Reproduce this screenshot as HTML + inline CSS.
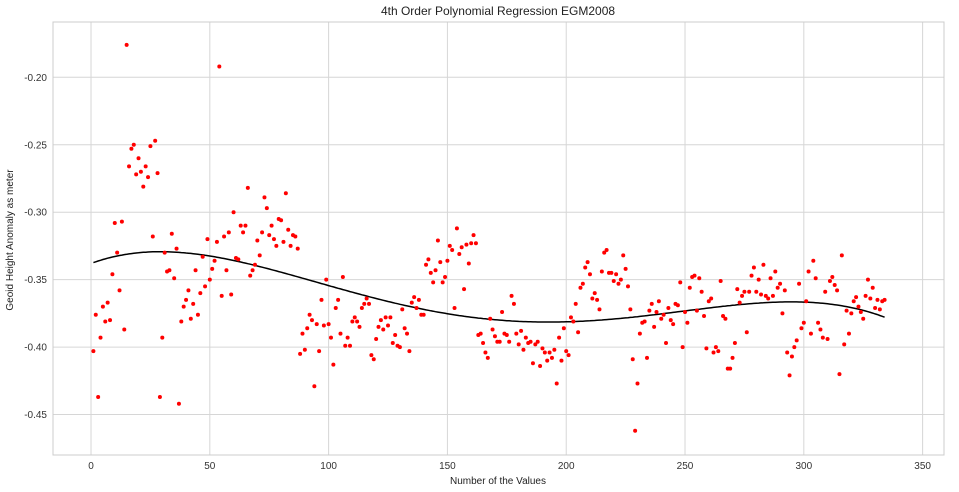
<!DOCTYPE html>
<html><head><meta charset="utf-8"><style>
body{margin:0;background:#fff;font-family:"Liberation Sans",sans-serif;}
svg{display:block}
</style></head><body>
<svg id="chart" width="959" height="492" xmlns="http://www.w3.org/2000/svg">
<text x="498" y="15" text-anchor="middle" font-size="12" fill="#222">4th Order Polynomial Regression EGM2008</text>
<text x="498" y="484" text-anchor="middle" font-size="10" fill="#222">Number of the Values</text>
<text transform="translate(13,240) rotate(-90)" text-anchor="middle" font-size="10" fill="#222">Geoid Height Anomaly as meter</text>
<g id="grid"></g>
<g id="ticks"></g>
<path id="fit" fill="none" stroke="#000" stroke-width="1.5"/>
<g id="pts"></g>
<rect x="53" y="22" width="891" height="433" fill="none" stroke="#ccc" stroke-width="1"/>
</svg>
<script>
const values = [-0.403,-0.376,-0.437,-0.393,-0.370,-0.381,-0.367,-0.380,-0.346,-0.308,
-0.330,-0.358,-0.307,-0.387,-0.176,-0.266,-0.253,-0.250,-0.272,-0.260,
-0.270,-0.281,-0.266,-0.274,-0.251,-0.318,-0.247,-0.271,-0.437,-0.393,
-0.330,-0.344,-0.343,-0.316,-0.349,-0.327,-0.442,-0.381,-0.370,-0.365,
-0.358,-0.379,-0.368,-0.343,-0.376,-0.360,-0.333,-0.355,-0.320,-0.350,
-0.342,-0.336,-0.322,-0.192,-0.362,-0.318,-0.343,-0.315,-0.361,-0.300,
-0.334,-0.335,-0.310,-0.315,-0.310,-0.282,-0.347,-0.343,-0.339,-0.321,
-0.332,-0.315,-0.289,-0.297,-0.317,-0.310,-0.320,-0.325,-0.305,-0.306,
-0.322,-0.286,-0.313,-0.325,-0.317,-0.318,-0.327,-0.405,-0.390,-0.402,
-0.386,-0.376,-0.380,-0.429,-0.383,-0.403,-0.365,-0.384,-0.350,-0.383,
-0.393,-0.413,-0.371,-0.365,-0.390,-0.348,-0.399,-0.393,-0.399,-0.381,
-0.378,-0.381,-0.385,-0.371,-0.368,-0.364,-0.368,-0.406,-0.409,-0.394,
-0.385,-0.380,-0.387,-0.378,-0.384,-0.378,-0.397,-0.391,-0.399,-0.400,
-0.372,-0.386,-0.390,-0.403,-0.367,-0.363,-0.371,-0.365,-0.376,-0.376,
-0.339,-0.335,-0.345,-0.352,-0.343,-0.321,-0.337,-0.352,-0.348,-0.336,
-0.325,-0.328,-0.371,-0.312,-0.331,-0.326,-0.357,-0.324,-0.338,-0.323,
-0.317,-0.323,-0.391,-0.390,-0.397,-0.404,-0.408,-0.379,-0.387,-0.392,
-0.396,-0.396,-0.374,-0.390,-0.391,-0.396,-0.362,-0.368,-0.390,-0.398,
-0.388,-0.402,-0.393,-0.397,-0.396,-0.412,-0.398,-0.396,-0.414,-0.401,
-0.404,-0.410,-0.404,-0.408,-0.402,-0.427,-0.393,-0.410,-0.386,-0.403,
-0.406,-0.378,-0.381,-0.368,-0.389,-0.356,-0.353,-0.341,-0.337,-0.346,
-0.364,-0.360,-0.365,-0.372,-0.344,-0.330,-0.328,-0.345,-0.345,-0.351,
-0.346,-0.353,-0.350,-0.332,-0.342,-0.355,-0.372,-0.409,-0.462,-0.427,
-0.390,-0.382,-0.381,-0.408,-0.373,-0.368,-0.385,-0.374,-0.366,-0.379,
-0.376,-0.397,-0.371,-0.380,-0.383,-0.368,-0.369,-0.352,-0.400,-0.374,
-0.382,-0.356,-0.348,-0.347,-0.373,-0.349,-0.359,-0.377,-0.401,-0.366,
-0.364,-0.404,-0.400,-0.403,-0.351,-0.377,-0.379,-0.416,-0.416,-0.408,
-0.397,-0.357,-0.367,-0.362,-0.359,-0.389,-0.359,-0.347,-0.341,-0.359,
-0.350,-0.361,-0.339,-0.362,-0.364,-0.349,-0.362,-0.344,-0.356,-0.353,
-0.375,-0.358,-0.404,-0.421,-0.407,-0.400,-0.395,-0.353,-0.386,-0.382,
-0.366,-0.344,-0.390,-0.336,-0.349,-0.382,-0.387,-0.393,-0.359,-0.394,
-0.351,-0.348,-0.354,-0.358,-0.420,-0.332,-0.398,-0.373,-0.390,-0.375,
-0.366,-0.363,-0.370,-0.374,-0.379,-0.362,-0.350,-0.364,-0.356,-0.371,
-0.365,-0.372,-0.366,-0.365];
const xTicks = [0,50,100,150,200,250,300,350];
const yTicks = [-0.20,-0.25,-0.30,-0.35,-0.40,-0.45];

const L=53,R=944,T=22,B=455, X0=-16,X1=359, Y0=-0.48,Y1=-0.159;
const sx=v=>L+(v-X0)/(X1-X0)*(R-L);
const sy=v=>B-(v-Y0)/(Y1-Y0)*(B-T);
const NS="http://www.w3.org/2000/svg";
const grid=document.getElementById('grid'), ticks=document.getElementById('ticks'), pts=document.getElementById('pts');
xTicks.forEach(t=>{
  const l=document.createElementNS(NS,'line');
  
  
  l.setAttribute('x1',sx(t));l.setAttribute('x2',sx(t));l.setAttribute('y1',T);l.setAttribute('y2',B);
  l.setAttribute('stroke','#d6d6d6');grid.appendChild(l);
  const tx=document.createElementNS(NS,'text');
  
  
  tx.setAttribute('x',sx(t));tx.setAttribute('y',B+14);tx.setAttribute('text-anchor','middle');
  tx.setAttribute('font-size','10');tx.setAttribute('fill','#333');tx.textContent=t;ticks.appendChild(tx);
});
yTicks.forEach(t=>{
  const l=document.createElementNS(NS,'line');
  
  
  l.setAttribute('x1',L);l.setAttribute('x2',R);l.setAttribute('y1',sy(t));l.setAttribute('y2',sy(t));
  l.setAttribute('stroke','#d6d6d6');grid.appendChild(l);
  const tx=document.createElementNS(NS,'text');
  
  
  tx.setAttribute('x',L-6);tx.setAttribute('y',sy(t)+3.5);tx.setAttribute('text-anchor','end');
  tx.setAttribute('font-size','10');tx.setAttribute('fill','#333');tx.textContent=t.toFixed(2);ticks.appendChild(tx);
});
values.forEach((v,i)=>{
  const c=document.createElementNS(NS,'circle');
  
  
  c.setAttribute('cx',sx(i+1));c.setAttribute('cy',sy(v));c.setAttribute('r','2');c.setAttribute('fill','#ff0000');
  pts.appendChild(c);
});
// 4th order least-squares fit
(function(){
  const n=values.length, deg=4, m=deg+1;
  const xs=values.map((_,i)=>(i+1)/n);
  const A=[];for(let r=0;r<m;r++){A.push(new Array(m+1).fill(0));}
  for(let k=0;k<n;k++){for(let r=0;r<m;r++){for(let c=0;c<m;c++)A[r][c]+=Math.pow(xs[k],r+c);A[r][m]+=Math.pow(xs[k],r)*values[k];}}
  for(let i=0;i<m;i++){let p=i;for(let r=i+1;r<m;r++)if(Math.abs(A[r][i])>Math.abs(A[p][i]))p=r;[A[i],A[p]]=[A[p],A[i]];
    for(let r=0;r<m;r++){if(r===i)continue;const f=A[r][i]/A[i][i];for(let c=i;c<=m;c++)A[r][c]-=f*A[i][c];}}
  const co=A.map((row,i)=>row[m]/row[i]);
  let d='';
  for(let k=1;k<=n;k++){const x=k/n;let y=0;for(let j=0;j<m;j++)y+=co[j]*Math.pow(x,j);d+=(k===1?'M':'L')+sx(k).toFixed(1)+','+sy(y).toFixed(1);}
  document.getElementById('fit').setAttribute('d',d);
})();
</script>
</body></html>
